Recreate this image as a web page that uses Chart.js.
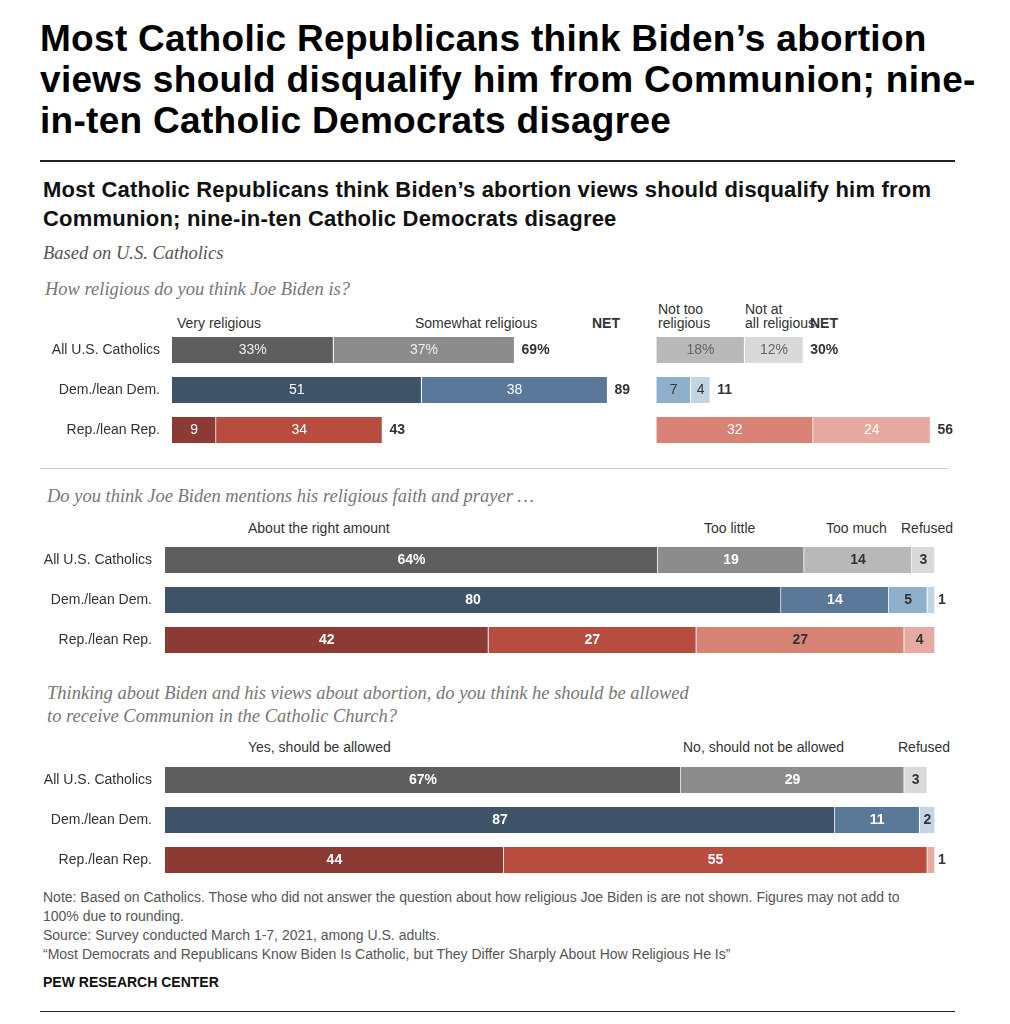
<!DOCTYPE html>
<html>
<head>
<meta charset="utf-8">
<script src="https://cdn.jsdelivr.net/npm/chart.js@4"></script>
<style>
  body { margin: 0; width: 1010px; height: 1024px; background: #fff; position: relative; font-family: "Liberation Sans", Arial, sans-serif; overflow: hidden; }
  .abs { position: absolute; white-space: nowrap; }
  .title { left: 40px; top: 18px; font-size: 37px; font-weight: bold; line-height: 41px; color: #000; letter-spacing: 0.3px; }
  .sub { left: 43px; top: 175px; font-size: 22px; font-weight: bold; line-height: 29px; color: #111; letter-spacing: 0.2px; }
  .q { font-family: "Liberation Serif", "DejaVu Serif", serif; font-style: italic; color: #666; font-size: 18.5px; }
  .hd { font-size: 14px; color: #333; line-height: 14px; }
  .note { left: 43px; font-size: 14px; color: #555; }
  canvas { position: absolute; left: 0; }
</style>
</head>
<body>
<div class="abs title">Most Catholic Republicans think Biden’s abortion<br>views should disqualify him from Communion; nine-<br>in-ten Catholic Democrats disagree</div>
<div class="abs" style="left:40px;top:160px;width:915px;border-top:2px solid #222"></div>
<div class="abs sub">Most Catholic Republicans think Biden’s abortion views should disqualify him from<br>Communion; nine-in-ten Catholic Democrats disagree</div>
<div class="abs q" style="left:43px;top:243px;color:#555">Based on U.S. Catholics</div>
<div class="abs q" style="left:45px;top:279px;color:#777">How religious do you think Joe Biden is?</div>

<div class="abs hd" style="left:177px;top:316px">Very religious</div>
<div class="abs hd" style="left:415px;top:316px">Somewhat religious</div>
<div class="abs hd" style="left:592px;top:316px;font-weight:bold">NET</div>
<div class="abs hd" style="left:658px;top:302px">Not too<br>religious</div>
<div class="abs hd" style="left:745px;top:302px">Not at<br>all religious</div>
<div class="abs hd" style="left:810px;top:316px;font-weight:bold">NET</div>

<div class="abs" style="left:40px;top:468px;width:908px;border-top:1px solid #ccc"></div>
<div class="abs q" style="left:47px;top:486px;color:#777">Do you think Joe Biden mentions his religious faith and prayer …</div>
<div class="abs hd" style="left:248px;top:521px">About the right amount</div>
<div class="abs hd" style="left:704px;top:521px">Too little</div>
<div class="abs hd" style="left:826px;top:521px">Too much</div>
<div class="abs hd" style="left:901px;top:521px">Refused</div>

<div class="abs q" style="left:47px;top:682px;color:#777;line-height:23px">Thinking about Biden and his views about abortion, do you think he should be allowed<br>to receive Communion in the Catholic Church?</div>
<div class="abs hd" style="left:248px;top:740px">Yes, should be allowed</div>
<div class="abs hd" style="left:683px;top:740px">No, should not be allowed</div>
<div class="abs hd" style="left:898px;top:740px">Refused</div>

<div class="abs note" style="top:888px;line-height:19px">Note: Based on Catholics. Those who did not answer the question about how religious Joe Biden is are not shown. Figures may not add to<br>100% due to rounding.<br>Source: Survey conducted March 1-7, 2021, among U.S. adults.<br>“Most Democrats and Republicans Know Biden Is Catholic, but They Differ Sharply About How Religious He Is”</div>
<div class="abs" style="left:43px;top:974px;font-size:14px;font-weight:bold;color:#111">PEW RESEARCH CENTER</div>
<div class="abs" style="left:40px;top:1011px;width:915px;border-top:1px solid #222"></div>

<canvas id="c1" style="top:330px"></canvas>
<canvas id="c2" style="top:540px"></canvas>
<canvas id="c3" style="top:760px"></canvas>

<script>
const groups = ["All U.S. Catholics", "Dem./lean Dem.", "Rep./lean Rep."];

// How religious
const veryReligious = [33, 51, 9];
const somewhatReligious = [37, 38, 34];
const netReligious = [69, 89, 43];
const notTooReligious = [18, 7, 32];
const notAtAllReligious = [12, 4, 24];
const netNotReligious = [30, 11, 56];

// Mentions faith and prayer
const rightAmount = [64, 80, 42];
const tooLittle = [19, 14, 27];
const tooMuch = [14, 5, 27];
const refusedFaith = [3, 1, 4];

// Communion
const allowed = [67, 87, 44];
const notAllowed = [29, 11, 55];
const refusedCommunion = [3, 2, 1];

const greys = ["#5e5e5e", "#8c8c8c", "#b9b9b9", "#d9d9d9"];
const blues = ["#3f5468", "#5a7897", "#8fb0cc", "#c2d5e5"];
const reds = ["#8b3a34", "#b84c3e", "#d98377", "#e7aaa2"];
const rowColors = (k) => [greys[k], blues[k], reds[k]];

const FONT = '"Liberation Sans", Arial, sans-serif';

function labelPlugin(cfg) {
  return {
    id: "barText",
    afterDatasetsDraw(chart) {
      const ctx = chart.ctx;
      ctx.save();
      ctx.textBaseline = "middle";
      chart.data.datasets.forEach((ds, di) => {
        const meta = chart.getDatasetMeta(di);
        meta.data.forEach((bar, i) => {
          const v = ds.values[i];
          let txt = String(v);
          if (i == 0 && (cfg.pctAll || di == 0)) txt += "%";
          const w = Math.abs(bar.x - bar.base);
          ctx.font = (cfg.bold ? "bold " : "") + "14px " + FONT;
          if (w < 12) {
            //Too narrow, put it outside
            ctx.fillStyle = "#333";
            ctx.textAlign = "left";
            ctx.fillText(txt, bar.x + 3, bar.y);
          } else {
            ctx.fillStyle = ds.textColors[i];
            ctx.textAlign = "center";
            ctx.fillText(txt, (bar.x + bar.base) / 2, bar.y);
          }
        });
      });
      // group labels
      ctx.font = "14px " + FONT;
      ctx.fillStyle = "#333";
      ctx.textAlign = "right";
      const ys = chart.scales.y;
      groups.forEach((g, i) => ctx.fillText(g, cfg.labelX, ys.getPixelForValue(i)));
      // net labels
      if (cfg.nets) {
        ctx.font = "bold 14px " + FONT;
        ctx.textAlign = "left";
        cfg.nets.forEach((n) => {
          const meta = chart.getDatasetMeta(n.ds);
          meta.data.forEach((bar, i) => {
            ctx.fillText(n.values[i] + (i == 0 ? "%" : ""), bar.x + 7, bar.y);
          });
        });
      }
      ctx.restore();
    },
  };
}

function makeChart(id, height, datasets, xMax, padLeft, padRight, cfg) {
  const canvas = document.getElementById(id);
  canvas.style.width = "1010px";
  canvas.style.height = height + "px";
  return new Chart(canvas, {
    type: "bar",
    data: { labels: groups, datasets: datasets },
    options: {
      indexAxis: "y",
      responsive: false,
      animation: false,
      layout: { padding: { left: padLeft, right: padRight, top: 0, bottom: 0 } },
      scales: {
        x: { display: false, min: 0, max: xMax, stacked: cfg.stacked },
        y: { display: false, stacked: cfg.stacked },
      },
      plugins: { legend: { display: false }, tooltip: { enabled: false } },
    },
    plugins: [labelPlugin(cfg)],
  });
}

function sizeCanvas(id, h) {
  const c = document.getElementById(id);
  c.width = 1010; c.height = h;
}

// Panel 1: floating bars, two groups
const RIGHT_START = 99;
function floatSet(starts, vals, colors, textColors) {
  return {
    data: vals.map((v, i) => [starts[i], starts[i] + v]),
    values: vals,
    backgroundColor: colors,
    textColors: textColors,
    borderColor: "#fff",
    borderWidth: { right: 1 },
    borderSkipped: false,
    barThickness: 26,
    grouped: false,
  };
}
const zeros = groups.map(() => 0);
const rightStarts = groups.map(() => RIGHT_START);
sizeCanvas("c1", 120);
makeChart("c1", 120, [
  floatSet(zeros, veryReligious, rowColors(0), ["#eee", "#fff", "#fff"]),
  floatSet(veryReligious, somewhatReligious, rowColors(1), ["#eee", "#fff", "#fff"]),
  floatSet(rightStarts, notTooReligious, rowColors(2), ["#666", "#333", "#fff"]),
  floatSet(rightStarts.map((s, i) => s + notTooReligious[i]), notAtAllReligious, rowColors(3), ["#666", "#333", "#fff"]),
], 160, 172, 55, {
  stacked: false, bold: false, pctAll: true, labelX: 160,
  nets: [{ ds: 1, values: netReligious }, { ds: 3, values: netNotReligious }],
});

// Panels 2 and 3: stacked 100% bars
function stackSet(vals, colors, textColors) {
  return {
    data: vals, values: vals, backgroundColor: colors, textColors: textColors,
    borderColor: "#fff", borderWidth: { right: 1 }, borderSkipped: false, barThickness: 26,
  };
}
sizeCanvas("c2", 120);
makeChart("c2", 120, [
  stackSet(rightAmount, rowColors(0), ["#fff", "#fff", "#fff"]),
  stackSet(tooLittle, rowColors(1), ["#fff", "#fff", "#fff"]),
  stackSet(tooMuch, rowColors(2), ["#333", "#333", "#333"]),
  stackSet(refusedFaith, rowColors(3), ["#333", "#333", "#333"]),
], 100, 165, 75, { stacked: true, bold: true, pctAll: false, labelX: 152 });

sizeCanvas("c3", 120);
makeChart("c3", 120, [
  stackSet(allowed, rowColors(0), ["#fff", "#fff", "#fff"]),
  stackSet(notAllowed, rowColors(1), ["#fff", "#fff", "#fff"]),
  stackSet(refusedCommunion, rowColors(3), ["#333", "#333", "#333"]),
], 100, 165, 75, { stacked: true, bold: true, pctAll: false, labelX: 152 });
</script>
</body>
</html>
